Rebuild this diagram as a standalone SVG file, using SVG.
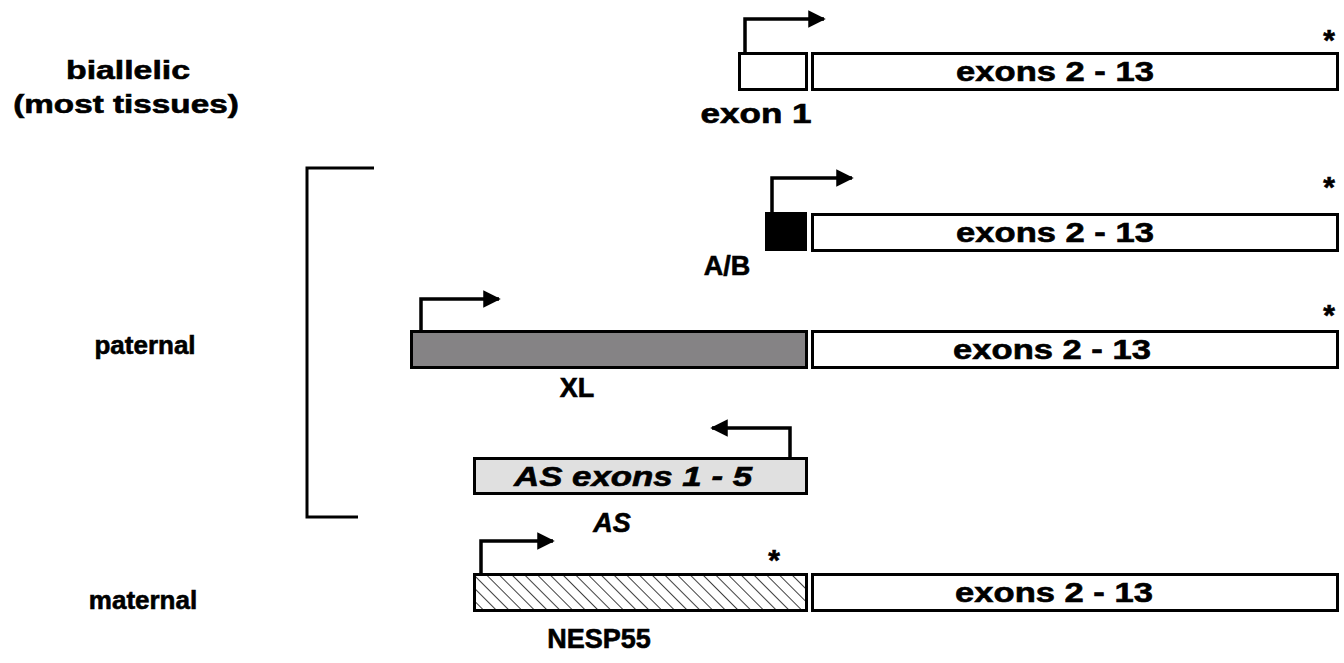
<svg xmlns="http://www.w3.org/2000/svg" width="1344" height="663" viewBox="0 0 1344 663">
<defs>
<pattern id="hatch" patternUnits="userSpaceOnUse" width="9" height="9" patternTransform="rotate(-45)">
<rect width="9" height="9" fill="#fff"/>
<line x1="0" y1="0" x2="0" y2="9" stroke="#000" stroke-width="1.5"/>
</pattern>
<marker id="ah" viewBox="0 0 10 10" refX="9" refY="5" markerWidth="5" markerHeight="5" orient="auto" markerUnits="strokeWidth">
<path d="M0,0 L10,5 L0,10 z" fill="#000"/>
</marker>
<style>
.box{stroke:#000;stroke-width:3}
.t{font-family:"Liberation Sans",Arial,sans-serif;font-weight:bold;fill:#000;stroke:#000;stroke-width:0.6;text-anchor:middle}
.lbl{font-size:26px}
.ex{font-size:27px}
.ast{font-size:30px}
.prom{fill:none;stroke:#000;stroke-width:3.5}
</style>
</defs>
<rect width="1344" height="663" fill="#fff"/>

<g id="labels">
<text class="t lbl" transform="translate(128,79) scale(1.3,1)">biallelic</text>
<text class="t lbl" transform="translate(126,113) scale(1.28,1)">(most tissues)</text>
<text class="t lbl" x="145" y="354">paternal</text>
<text class="t lbl" x="143" y="609">maternal</text>
</g>

<g id="bracket">
<path d="M374,168 H307 V517 H358" fill="none" stroke="#000" stroke-width="3"/>
</g>

<g id="row-biallelic">
<rect class="box" x="739.5" y="53.5" width="67" height="36" fill="#fff"/>
<rect class="box" x="812.5" y="53.5" width="525" height="36" fill="#fff"/>
<text class="t ex" transform="translate(1055,81) scale(1.28,1)">exons 2 - 13</text>
<text class="t ex" transform="translate(756,123) scale(1.3,1)">exon 1</text>
<text class="t ast" x="1329" y="50">*</text>
</g>

<g id="row-AB">
<rect x="765" y="212" width="42" height="39" fill="#000"/>
<rect class="box" x="812.5" y="214.5" width="525" height="36" fill="#fff"/>
<text class="t ex" transform="translate(1055,242) scale(1.28,1)">exons 2 - 13</text>
<text class="t ex" x="727" y="275">A/B</text>
<text class="t ast" x="1329" y="197">*</text>
</g>

<g id="row-XL">
<rect class="box" x="411.5" y="331.5" width="395" height="36" fill="#858385"/>
<rect class="box" x="812.5" y="331.5" width="525" height="36" fill="#fff"/>
<text class="t ex" transform="translate(1052,359) scale(1.28,1)">exons 2 - 13</text>
<text class="t ex" x="577" y="397">XL</text>
<text class="t ast" x="1329" y="325">*</text>
</g>

<g id="row-AS">
<rect class="box" x="474.5" y="458.5" width="332" height="35" fill="#e0e0e0"/>
<text class="t ex" transform="translate(633,486) scale(1.29,1)" font-style="italic">AS exons 1 - 5</text>
<text class="t ex" x="612" y="532" font-style="italic">AS</text>
</g>

<g id="row-NESP">
<rect class="box" x="474.5" y="574.5" width="332" height="36" fill="url(#hatch)"/>
<rect class="box" x="812.5" y="574.5" width="525" height="36" fill="#fff"/>
<text class="t ex" transform="translate(1054,602) scale(1.28,1)">exons 2 - 13</text>
<text class="t ex" x="599" y="648">NESP55</text>
<text class="t ast" x="774" y="570">*</text>
</g>

<g id="connectors">
<path class="prom" d="M745,52 V19 H824" marker-end="url(#ah)"/>
<path class="prom" d="M772,212 V178 H852" marker-end="url(#ah)"/>
<path class="prom" d="M421,330 V299 H499" marker-end="url(#ah)"/>
<path class="prom" d="M790,457 V428 H712" marker-end="url(#ah)"/>
<path class="prom" d="M481,573 V541 H553" marker-end="url(#ah)"/>
</g>
</svg>
